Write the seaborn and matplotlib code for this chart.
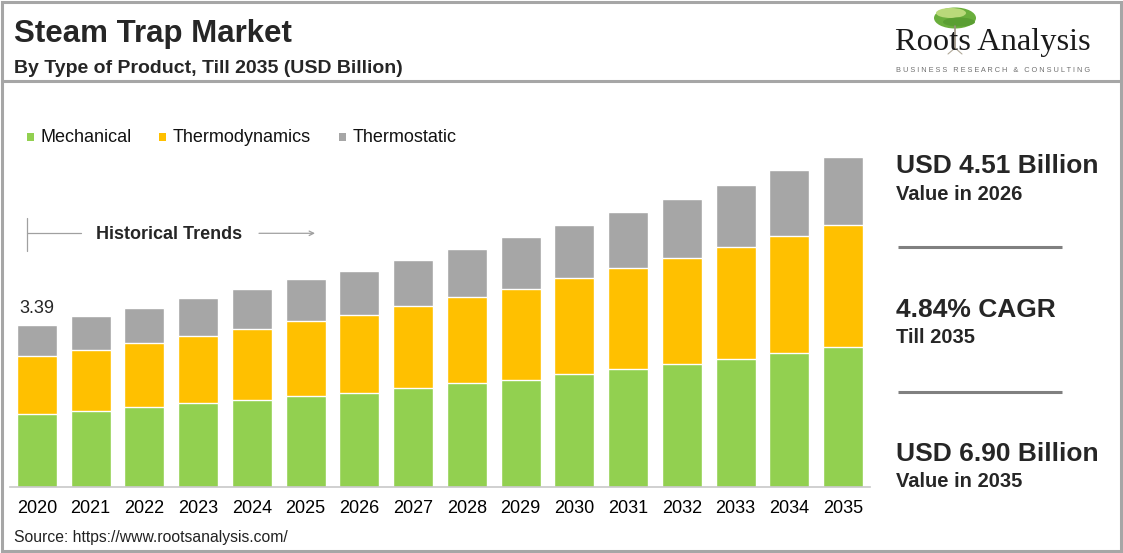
import matplotlib
matplotlib.use("Agg")
import matplotlib.pyplot as plt
from matplotlib.patches import Rectangle, Ellipse
import numpy as np
import pandas as pd
import seaborn as sns

# ---------------- data ----------------
years = ["2020", "2021", "2022", "2023", "2024", "2025", "2026", "2027",
         "2028", "2029", "2030", "2031", "2032", "2033", "2034", "2035"]
mechanical = [1.52, 1.60, 1.67, 1.75, 1.83, 1.91, 1.97, 2.07,
              2.17, 2.25, 2.36, 2.46, 2.57, 2.67, 2.80, 2.92]
thermodynamics = [1.22, 1.26, 1.34, 1.40, 1.48, 1.57, 1.63, 1.71,
                  1.80, 1.90, 2.00, 2.12, 2.22, 2.34, 2.44, 2.56]
thermostatic = [0.65, 0.72, 0.74, 0.81, 0.83, 0.86, 0.91, 0.97,
                1.01, 1.07, 1.11, 1.17, 1.22, 1.30, 1.38, 1.42]
series_names = ["Mechanical", "Thermodynamics", "Thermostatic"]
colors = ["#92D050", "#FFC000", "#A6A6A6"]
first_label = "3.39"

title = "Steam Trap Market"
subtitle = "By Type of Product, Till 2035 (USD Billion)"
source = "Source: https://www.rootsanalysis.com/"
stats = [("USD 4.51 Billion", "Value in 2026"),
         ("4.84% CAGR", "Till 2035"),
         ("USD 6.90 Billion", "Value in 2035")]

# ---------------- style ----------------
sns.set_style("white")
plt.rcParams["font.family"] = ["Liberation Sans", "DejaVu Sans"]

W, H = 1123, 553
fig = plt.figure(figsize=(W / 100, H / 100), dpi=100)
fig.patch.set_facecolor("white")

# main bar axes (pixel geometry)
base_px, top_px, left_px, right_px = 487.3, 100.0, 10.0, 870.0
px_per_unit = 47.9
ax = fig.add_axes([left_px / W, (H - base_px) / H,
                   (right_px - left_px) / W, (base_px - top_px) / H])
ax.set_facecolor("none")

df = pd.DataFrame({"year": years, "Mechanical": mechanical,
                   "Thermodynamics": thermodynamics, "Thermostatic": thermostatic})
df["lvl1"] = df["Mechanical"]
df["lvl2"] = df["Mechanical"] + df["Thermodynamics"]
df["lvl3"] = df["lvl2"] + df["Thermostatic"]

for col, c in zip(["lvl3", "lvl2", "lvl1"], colors[::-1]):
    sns.barplot(data=df, x="year", y=col, color=c, width=0.745,
                edgecolor="white", linewidth=1.0, saturation=1, ax=ax,
                errorbar=None)

ax.set_xlim(-0.5, len(years) - 0.5)
ax.set_ylim(0, (base_px - top_px) / px_per_unit)
ax.set_xlabel("")
ax.set_ylabel("")
ax.set_yticks([])
for s in ["left", "right", "top"]:
    ax.spines[s].set_visible(False)
ax.spines["bottom"].set_color("#c8c8c8")
ax.spines["bottom"].set_linewidth(1.2)
ax.tick_params(axis="x", length=0, pad=9, labelsize=13, labelcolor="#000000")

# label on first bar
ax.annotate(first_label, (0, df["lvl3"].iloc[0]), xytext=(0, 6),
            textcoords="offset points", ha="center", va="bottom", fontsize=13)

# ---------------- overlay in pixel coordinates ----------------
ov = fig.add_axes([0, 0, 1, 1], zorder=5)
ov.set_xlim(0, W)
ov.set_ylim(H, 0)
ov.axis("off")
ov.patch.set_alpha(0)

# border and header separator
ov.add_patch(Rectangle((1.5, 1.5), W - 4, H - 4, fill=False,
                       edgecolor="#a6a6a6", linewidth=2.2))
ov.plot([2, W - 3], [81, 81], color="#a6a6a6", lw=2.2, solid_capstyle="butt")

# titles
ov.text(14, 42, title, fontsize=22.5, fontweight="bold", va="baseline", ha="left")
ov.text(14, 73, subtitle, fontsize=14, fontweight="bold", va="baseline", ha="left")

# legend
leg_x = [(27, 40.7), (159, 173), (339, 353)]
for (sx, tx), name, c in zip(leg_x, series_names, colors):
    ov.add_patch(Rectangle((sx, 133), 7, 8, facecolor=c, edgecolor="none"))
    ov.text(tx, 141.7, name, fontsize=13, va="baseline", ha="left", color="#111111")

# historical trends marker
ov.plot([26.5, 26.5], [218, 251], color="#a0a0a0", lw=0.9)
ov.plot([26.5, 81], [233.3, 233.3], color="#a0a0a0", lw=0.9)
ov.annotate("", xy=(315, 233.3), xytext=(259, 233.3),
            arrowprops=dict(arrowstyle="->", color="#a0a0a0", lw=0.9,
                            shrinkA=0, shrinkB=0, mutation_scale=8))
ov.text(95.7, 239, "Historical Trends", fontsize=13, fontweight="bold",
        va="baseline", ha="left")

# source
ov.text(14, 541.7, source, fontsize=11.3, va="baseline", ha="left", color="#222222")

# right panel
big_base = [172.7, 316.7, 461.0]
small_base = [200.0, 343.3, 487.3]
for (big, small), yb, ys in zip(stats, big_base, small_base):
    ov.text(896, yb, big, fontsize=19, fontweight="bold", va="baseline", ha="left")
    ov.text(896, ys, small, fontsize=14.5, fontweight="bold", va="baseline", ha="left")
for yl in [247.3, 392.3]:
    ov.plot([898, 1062], [yl, yl], color="#808080", lw=2.2, solid_capstyle="butt")

# logo
ov.plot([955, 955], [26, 48], color="#9a8f80", lw=1.2)
ov.plot([948, 955, 962], [54, 48, 54], color="#b0a898", lw=0.8)
ov.add_patch(Ellipse((955, 18), 42, 21, facecolor="#6aae3c", edgecolor="none"))
ov.add_patch(Ellipse((951, 13), 30, 10, facecolor="#b9d97a", edgecolor="none"))
ov.add_patch(Ellipse((959, 22), 32, 9, facecolor="#5a9e32", edgecolor="none"))
ov.text(895, 50, "Roots Analysis", fontsize=23.3, family="Liberation Serif",
        va="baseline", ha="left", color="#1a1a1a")
tag = "BUSINESS RESEARCH & CONSULTING"
tag_sp = "   ".join(" ".join(w) for w in tag.split(" "))
ov.text(896, 70.7, tag_sp, fontsize=5.3, va="center", ha="left", color="#707070")

fig.savefig("out.png", dpi=100, facecolor="white")
